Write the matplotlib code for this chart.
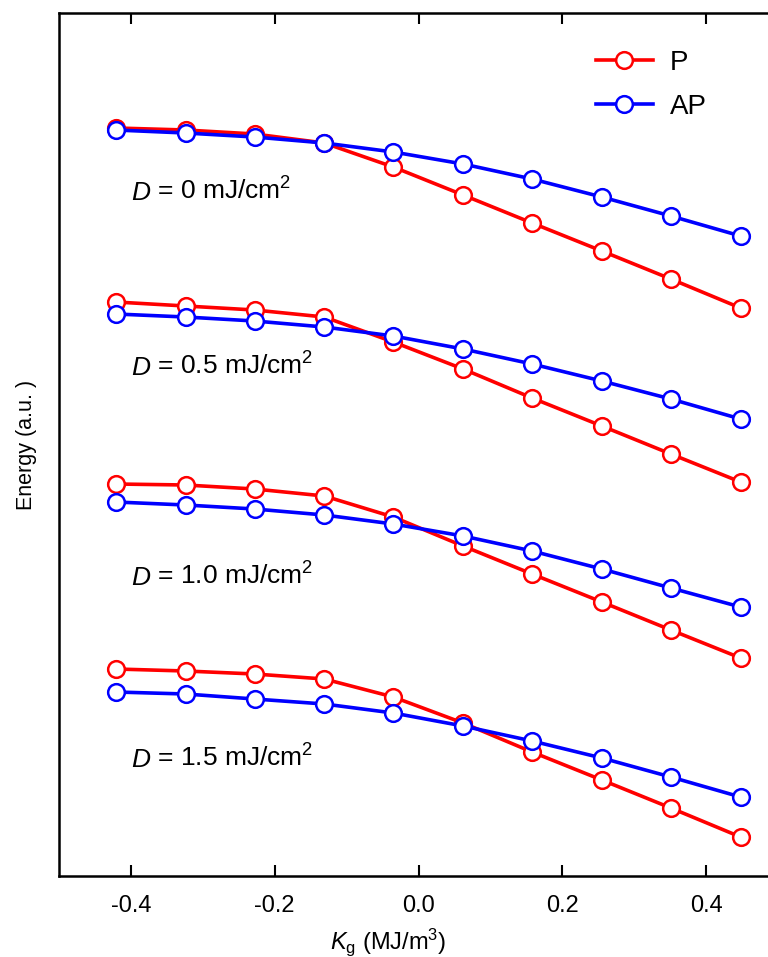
import matplotlib
matplotlib.use("Agg")
import matplotlib.pyplot as plt
from matplotlib import font_manager

# Anisotropy gradient values (MJ/m^3)
kg = [-0.421, -0.324, -0.228, -0.131, -0.035, 0.062, 0.158, 0.255, 0.351, 0.448]

# Energies (a.u.) for parallel (P) and antiparallel (AP) states at each D
p_d00 = [7.52, 7.50, 7.46, 7.37, 7.13, 6.85, 6.57, 6.29, 6.01, 5.72]
ap_d00 = [7.50, 7.47, 7.43, 7.37, 7.28, 7.16, 7.01, 6.83, 6.64, 6.44]
p_d05 = [5.78, 5.74, 5.70, 5.63, 5.38, 5.11, 4.82, 4.54, 4.26, 3.98]
ap_d05 = [5.66, 5.63, 5.59, 5.53, 5.44, 5.31, 5.16, 4.99, 4.81, 4.61]
p_d10 = [3.96, 3.95, 3.91, 3.84, 3.63, 3.34, 3.06, 2.78, 2.50, 2.22]
ap_d10 = [3.78, 3.75, 3.71, 3.65, 3.56, 3.44, 3.29, 3.11, 2.92, 2.73]
p_d15 = [2.11, 2.09, 2.06, 2.01, 1.83, 1.57, 1.28, 1.00, 0.72, 0.43]
ap_d15 = [1.88, 1.86, 1.81, 1.76, 1.67, 1.54, 1.39, 1.22, 1.03, 0.83]

d_labels = ["0", "0.5", "1.0", "1.5"]
d_label_y = [6.94, 5.19, 3.09, 1.27]

FONT = "Liberation Sans"
narrow = "Liberation Sans Narrow"
names = {f.name for f in font_manager.fontManager.ttflist}
if narrow not in names:
    narrow = FONT

plt.rcParams["mathtext.fontset"] = "custom"
plt.rcParams["mathtext.rm"] = narrow
plt.rcParams["mathtext.it"] = narrow + ":italic"

fig = plt.figure(figsize=(7.68, 9.57), dpi=100)
# right edge of the frame runs past the figure border
ax = fig.add_axes([59 / 768, 1 - 876 / 957, 719 / 768, (876 - 13) / 957])

RED = "#ff0000"
BLUE = "#0000ff"
line_kw = dict(lw=2.6, marker="o", ms=12, mfc="white", mew=1.8)

series = [(p_d00, ap_d00), (p_d05, ap_d05), (p_d10, ap_d10), (p_d15, ap_d15)]
for i, (p, ap) in enumerate(series):
    ax.plot(kg, p, color=RED, mec=RED, label="P" if i == 0 else None, zorder=3, **line_kw)
    ax.plot(kg, ap, color=BLUE, mec=BLUE, label="AP" if i == 0 else None, zorder=4, **line_kw)

for lab, yy in zip(d_labels, d_label_y):
    t = ax.text(-0.40, yy - 0.07, "D", fontsize=19, family=FONT,
                style="italic", va="center", ha="left")
    ax.annotate(" = " + lab + " mJ/cm$^{2}$", xy=(1, 0), xycoords=t,
                xytext=(0, 0), textcoords="offset points",
                fontsize=19, family=FONT, va="bottom", ha="left")

ax.set_xlim(-0.5, 0.5)
ax.set_ylim(0.04, 8.67)
ax.set_xticks([-0.4, -0.2, 0.0, 0.2, 0.4])
ax.set_xticklabels(["-0.4", "-0.2", "0.0", "0.2", "0.4"], family=narrow, fontsize=17)
ax.set_yticks([])
ax.tick_params(axis="x", direction="in", length=8, width=1.5, top=True, pad=14)
for s in ax.spines.values():
    s.set_linewidth(1.8)

ax.set_xlabel(r"$K_{\rm g}$ (MJ/m$^{3}$)", family=narrow, fontsize=17)
ax.xaxis.set_label_coords(0.458, -0.058)
ax.set_ylabel("Energy (a.u. )", family=narrow, fontsize=15.5)
ax.yaxis.set_label_coords(-0.031, 0.5)

ax.legend(loc="upper left", bbox_to_anchor=(0.712, 0.986), frameon=False,
          prop={"family": narrow, "size": 20}, handlelength=2.05,
          handletextpad=0.6, labelspacing=0.64)

fig.savefig("out.png", dpi=100)
